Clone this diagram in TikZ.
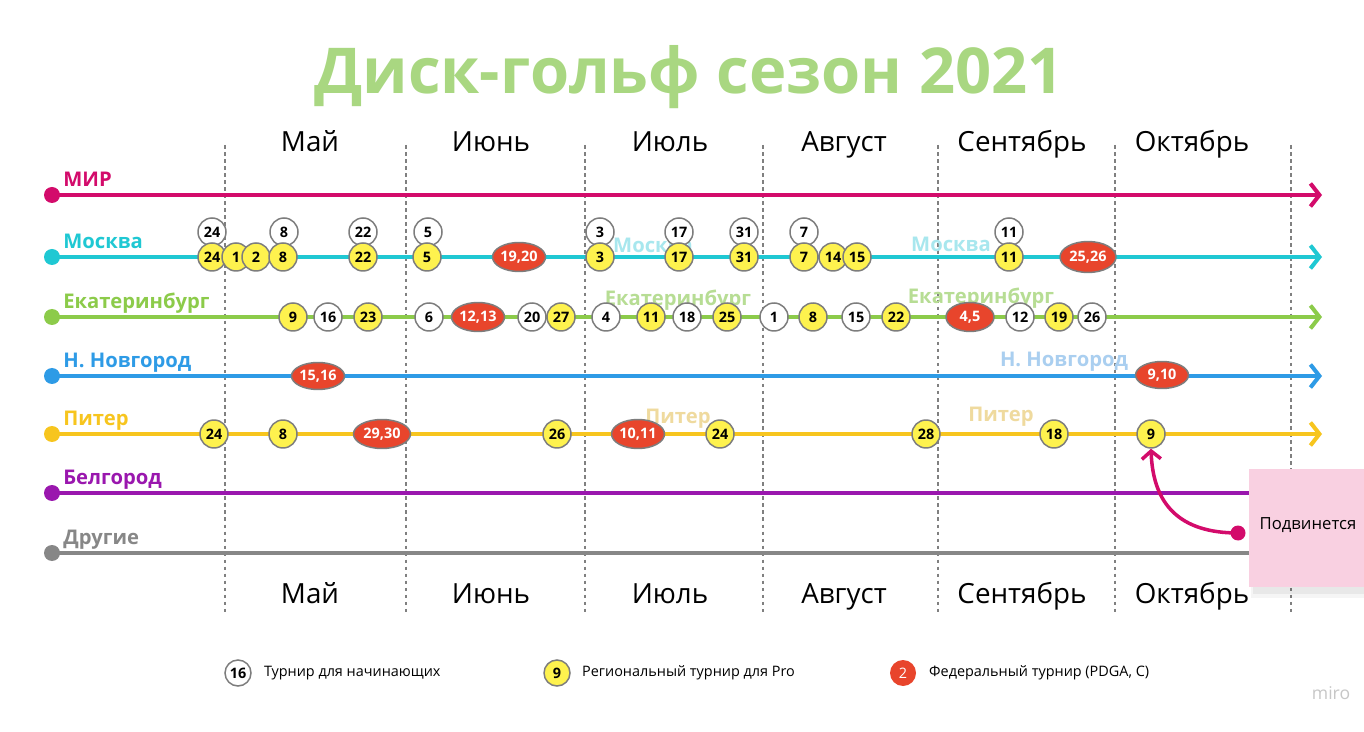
\documentclass[tikz,border=0pt]{standalone}
\usepackage{fontspec}
\setmainfont{Open Sans}
\usetikzlibrary{arrows.meta,shapes.geometric}
\definecolor{cmir}{HTML}{D30B6B}
\definecolor{cmsk}{HTML}{1FC8D3}
\definecolor{cekb}{HTML}{8CCB4A}
\definecolor{cnn}{HTML}{2E9BE6}
\definecolor{cpit}{HTML}{F7C51E}
\definecolor{cbel}{HTML}{9A17AE}
\definecolor{coth}{HTML}{878787}
\definecolor{ctitle}{HTML}{A9D781}
\definecolor{cyel}{HTML}{FEF24E}
\definecolor{cred}{HTML}{E8452C}
\definecolor{cbord}{HTML}{7D7D7D}
\definecolor{cpink}{HTML}{F9D0E1}
\definecolor{gmsk}{HTML}{A8E7EE}
\definecolor{gekb}{HTML}{B7DD94}
\definecolor{gnn}{HTML}{AACFF0}
\definecolor{gpit}{HTML}{EFDA9E}
\tikzset{
  ev/.style={circle, draw=cbord, line width=0.85pt, minimum size=0.56cm, inner sep=0pt,
    font=\fontsize{8.2}{9}\selectfont\bfseries, text=black},
  wc/.style={ev, fill=white},
  yc/.style={ev, fill=cyel},
  rc/.style={ellipse, draw=cbord, line width=0.85pt, fill=cred, minimum width=1.06cm,
    minimum height=0.58cm, inner sep=0pt, text=white, font=\fontsize{8.2}{9}\selectfont\bfseries},
  track/.style={line width=2.3pt, -{Straight Barb[length=1.8mm,width=4.6mm]}},
  startdot/.style={circle, inner sep=0pt, minimum size=0.32cm},
  rowlabel/.style={anchor=base west, inner sep=0pt, font=\fontsize{11.5}{13}\selectfont\bfseries},
  ghost/.style={font=\fontsize{11.5}{13}\selectfont\bfseries},
  month/.style={anchor=base, inner sep=0pt, font=\fontsize{15.8}{18}\selectfont},
  vsep/.style={draw=gray, line width=0.6pt, dash pattern=on 2pt off 2pt},
  legtext/.style={anchor=west, font=\fontsize{8.2}{10}\selectfont},
}
\begin{document}
\begin{tikzpicture}[x=0.02cm,y=-0.02cm]
\useasboundingbox[fill=white] (0,0) rectangle (1364,732);

% title
\node[text=ctitle, font=\fontsize{36}{40}\selectfont\bfseries] (title) at (689,77) {Диск-гольф сезон 2021};

% month separators
\foreach \x [count=\i] in {225,406,585,763,938,1115,1291}{
  \coordinate (vt\i) at (\x,145);
  \coordinate (vb\i) at (\x,613);
  \draw[vsep] (vt\i) -- (vb\i);
}
% month labels
\foreach \x/\m [count=\i] in {310/Май,491/Июнь,670/Июль,844/Август,1022/Сентябрь,1192/Октябрь}{
  \node[month] (mt\i) at (\x,152) {\m};
  \node[month] (mb\i) at (\x,603) {\m};
}

% ghost labels
\node[ghost, text=gmsk] (gm1) at (653,245) {Москва};
\node[ghost, text=gmsk] (gm2) at (951,244) {Москва};
\node[ghost, text=gekb] (ge1) at (678,300) {Екатеринбург};
\node[ghost, text=gekb] (ge2) at (981,298) {Екатеринбург};
\node[ghost, text=gnn] (gn1) at (1064,362) {Н. Новгород};
\node[ghost, text=gpit] (gp1) at (678,419) {Питер};
\node[ghost, text=gpit] (gp2) at (1001,417) {Питер};

% tracks
\foreach \y/\c/\t [count=\i] in {195/cmir/МИР, 257/cmsk/Москва, 317/cekb/Екатеринбург, 376/cnn/Н. Новгород, 434/cpit/Питер, 493/cbel/Белгород, 553/coth/Другие}{
  \node[startdot, fill=\c] (s\i) at (52,\y) {};
  \coordinate (e\i) at (1322,\y);
  \draw[track, draw=\c] (s\i.center) -- (e\i);
  \node[rowlabel, text=\c] (l\i) at (63,\y-8.5) {\t};
}

% Moscow: white above
\foreach \x/\t [count=\i] in {212/24,284/8,363/22,428/5,600/3,679/17,744/31,804/7,1009/11}{
  \node[wc] (mw\i) at (\x,232) {\t};
}
% Moscow: yellow / red on line
\foreach \x/\t [count=\i] in {212/24,236/1,256/2,283/8,363/22,427/5,600/3,679/17,744/31,804/7,833/14,857/15,1009/11}{
  \node[yc] (my\i) at (\x,257) {\t};
}
\node[rc] (mr1) at (519,257) {19,20};
\node[rc, minimum width=1.12cm, minimum height=0.62cm] (mr2) at (1088,257) {25,26};

% Ekaterinburg
\foreach \x/\t/\s [count=\i] in {293/9/yc,328/16/wc,368/23/yc,429/6/wc,532/20/wc,561/27/yc,606/4/wc,651/11/yc,687/18/wc,727/25/yc,774/1/wc,813/8/yc,856/15/wc,896/22/yc,1020/12/wc,1059/19/yc,1092/26/wc}{
  \node[\s] (ek\i) at (\x,317) {\t};
}
\node[rc] (er1) at (478,317) {12,13};
\node[rc, minimum width=0.96cm] (er2) at (970,317) {4,5};

% N. Novgorod
\node[rc, minimum height=0.54cm] (nr1) at (318,376) {15,16};
\node[rc, minimum height=0.54cm] (nr2) at (1162,375) {9,10};

% Piter
\foreach \x/\t [count=\i] in {214/24,283/8,557/26,720/24,926/28,1054/18}{
  \node[yc] (py\i) at (\x,434) {\t};
}
\node[yc] (p9) at (1151,434) {9};
\node[rc, minimum width=1.14cm] (pr1) at (382,434) {29,30};
\node[rc] (pr2) at (638,434) {10,11};

% sticky note
\fill[black, opacity=0.04] (1251,474) rectangle (1364,598);
\fill[black, opacity=0.05] (1253,477) rectangle (1364,594);
\node[fill=cpink, minimum width=2.3cm, minimum height=2.36cm, inner sep=0pt, anchor=north west] (sticky) at (1249,469) {};
\node[font=\fontsize{9.5}{11}\selectfont] (stxt) at (1308,525) {Подвинется};

% curved arrow
\node[circle, fill=cmir, inner sep=0pt, minimum size=0.3cm] (cd) at (1238,533) {};
\draw[draw=cmir, line width=2pt, -{Straight Barb[length=1.6mm,width=3.8mm]}]
  (cd.center) .. controls (1180,533) and (1153,505) .. (p9.south);

% legend
\node[wc, minimum size=0.52cm] (lg1) at (238,673) {16};
\node[legtext] (lt1) at (258,673) {Турнир для начинающих};
\node[yc, minimum size=0.52cm] (lg2) at (557,673) {9};
\node[legtext] (lt2) at (576,673) {Региональный турнир для Pro};
\node[circle, fill=cred, minimum size=0.52cm, inner sep=0pt, text=white, font=\fontsize{8.2}{9}\selectfont] (lg3) at (903,673) {2};
\node[legtext] (lt3) at (923,673) {Федеральный турнир (PDGA, C)};

\node[text=black!22, font=\fontsize{10}{12}\selectfont] (miro) at (1331,693) {miro};
\end{tikzpicture}
\end{document}
